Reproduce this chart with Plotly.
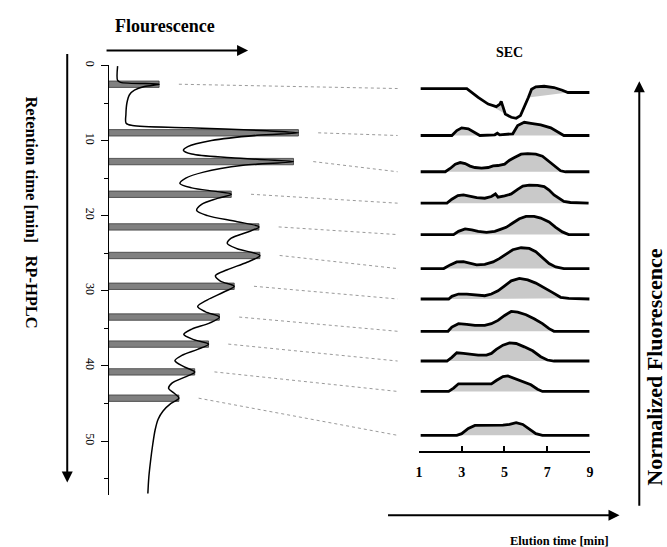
import plotly.graph_objects as go

W, H = 667, 547

# ---------------- RP-HPLC chromatogram (left panel) ----------------
rp_time = [0.1, 2.0, 2.25, 2.5, 2.8, 3.3, 3.9, 5.0, 6.5, 7.7, 8.0, 8.3, 8.7, 8.97, 9.3, 10.0,
           10.8, 11.3, 11.8, 12.3, 12.8, 13.3, 14.2, 15.0, 15.7, 16.3, 16.8, 17.15, 17.7, 18.5,
           19.3, 20.0, 20.8, 21.5, 22.2, 23.0, 23.7, 24.4, 25.3, 26.2, 27.2, 28.0, 28.7, 29.4,
           30.2, 31.2, 32.1, 32.8, 33.5, 34.3, 35.1, 35.8, 36.5, 37.1, 37.8, 38.6, 39.3, 40.1,
           40.8, 41.5, 42.3, 43.0, 43.6, 44.3, 45.0, 46.0, 47.1, 48.5, 50.4, 52.6, 54.8, 57.0]
rp_signal = [4.5, 4.5, 6, 25.5, 18, 13, 10.5, 9.2, 8.7, 8.8, 12, 40, 80, 96, 75, 52,
             40, 37.8, 42, 62, 93.5, 68, 48, 39, 36, 42, 55, 62, 55, 47,
             44.5, 50, 65, 76, 70, 62, 60, 65, 76.5, 70, 60, 54, 56.5, 63.5,
             58, 50, 45, 49, 56, 51, 42, 38, 43, 50.5, 45, 37, 33.5, 38,
             43.5, 38.5, 32, 30.3, 33, 35.5, 31.5, 27.5, 25, 23.5, 22.3, 21.2, 20.3, 19.8]

frac_time = [2.5, 8.97, 12.8, 17.15, 21.5, 25.3, 29.4, 33.5, 37.1, 40.8, 44.3]
frac_signal = [25.5, 96, 93.5, 62, 76, 76.5, 63.5, 56, 50.5, 43.5, 35.5]

rp_ticks = [0, 10, 20, 30, 40, 50]
rp_minor_ticks = [5, 15, 25, 35, 45, 55]

# ---------------- SEC traces (right panel) ----------------
sec_t = [
    [1.08, 3.24, 3.77, 4.24, 4.62, 4.79, 4.85, 4.93, 5.04, 5.32, 5.55, 5.75, 5.93, 6.12, 6.27, 6.47, 6.86, 7.32, 7.71, 7.97, 8.98],
    [1.08, 2.54, 2.77, 3.00, 3.31, 3.62, 3.85, 4.55, 4.67, 4.78, 5.16, 5.39, 5.62, 5.93, 6.24, 6.70, 7.17, 7.55, 7.78, 8.98],
    [1.08, 2.23, 2.46, 2.70, 2.93, 3.16, 3.39, 3.62, 3.93, 4.24, 4.47, 4.70, 5.01, 5.24, 5.47, 5.78, 6.09, 6.47, 6.78, 7.01, 7.32, 7.63, 7.86, 8.98],
    [1.08, 2.31, 2.54, 2.82, 3.08, 3.39, 3.70, 4.08, 4.39, 4.58, 4.70, 5.01, 5.32, 5.62, 5.86, 6.16, 6.55, 6.86, 7.09, 7.32, 7.55, 7.78, 8.09, 8.55, 8.94],
    [1.08, 2.62, 2.85, 3.16, 3.47, 3.77, 4.16, 4.55, 4.78, 5.08, 5.39, 5.70, 6.01, 6.39, 6.70, 7.09, 7.40, 7.71, 8.01, 8.98],
    [1.08, 2.16, 2.46, 2.77, 3.08, 3.39, 3.70, 4.08, 4.47, 4.78, 5.08, 5.39, 5.78, 6.16, 6.47, 6.78, 7.09, 7.40, 7.78, 8.98],
    [1.08, 2.39, 2.54, 2.85, 3.24, 3.62, 4.08, 4.39, 4.70, 5.01, 5.32, 5.70, 6.09, 6.47, 6.86, 7.24, 7.63, 8.01, 8.98],
    [1.08, 2.36, 2.54, 2.85, 3.24, 3.62, 4.08, 4.39, 4.70, 5.01, 5.32, 5.62, 6.01, 6.39, 6.78, 7.09, 7.32, 8.98],
    [1.08, 2.31, 2.54, 2.77, 3.08, 3.39, 3.77, 4.16, 4.39, 4.62, 4.93, 5.24, 5.55, 5.93, 6.32, 6.70, 7.01, 7.32, 8.98],
    [1.08, 2.39, 2.62, 2.85, 3.24, 3.62, 4.39, 4.62, 4.93, 5.16, 5.47, 5.86, 6.24, 6.55, 6.78, 8.98],
    [1.08, 2.77, 3.00, 3.31, 3.62, 4.24, 4.93, 5.24, 5.55, 5.86, 6.16, 6.47, 6.78, 8.98],
]
sec_h = [
    [0, 0, -9, -15.7, -18.3, -15.7, -13, -19, -25.7, -29, -30, -27.3, -19, -9, -0.7, 1.7, 2.3, 1, -1.7, -4, -4],
    [0, 0, 5, 7.7, 6.7, 3.3, 0, 0.7, 2.3, 0.7, 1, 1.7, 10, 13.3, 12.3, 10.7, 7.7, 3.3, 0, 0],
    [0, 0, 3.3, 7.7, 9.3, 8.3, 5.7, 4.3, 3.7, 4.3, 6, 6.3, 7.7, 11.7, 14.3, 17.7, 18.3, 17.7, 15.7, 11.7, 5.7, 1, 0, 0],
    [0, 0, 4, 7.7, 8.3, 6.7, 5.7, 5, 6.7, 9.3, 6, 7.3, 9.3, 14, 17.3, 18.3, 18, 16.7, 13.3, 8.3, 5, 1.7, 0.7, 0, 0],
    [0, 0, 3.3, 5.7, 4.7, 3.3, 2.3, 3.3, 5, 7.3, 11.7, 16, 18.3, 18.3, 16.7, 12.7, 7.3, 2.7, 0, 0],
    [0, 0, 3.7, 6.7, 7, 5.3, 3.7, 4.3, 6.7, 10.3, 14.3, 19, 21, 20.3, 17, 11, 5, 1.7, 0, 0],
    [0, 0, 2.7, 5, 5, 4, 3.3, 5, 8.3, 13.3, 18.3, 20.7, 19.3, 16, 11.7, 6.7, 1.7, 0.7, 0],
    [0, 0, 4.3, 7.7, 7, 6, 6, 7.7, 11, 16, 20, 19.3, 16.7, 12.7, 7.7, 2.7, 0, 0],
    [0, 0, 3.7, 8.3, 7.7, 6.7, 6, 6, 7.7, 11.7, 16, 18.3, 17.7, 14.3, 10.3, 4.3, 1, 0, 0],
    [0, 0, 3.3, 7.7, 7.7, 7.7, 7.7, 11, 15, 15.7, 13.3, 10, 6.7, 2.3, 0, 0],
    [0, 0, 1.7, 7, 10, 10, 10.3, 11, 12.7, 11, 6, 1.7, 0, 0],
]
# index ranges of each trace that are shaded down to a straight baseline
sec_fill = [
    [(3, 8), (13, 19)], [(1, 18)], [(1, 22)], [(1, 23)], [(1, 18)], [(1, 18)],
    [(1, 17)], [(1, 16)], [(1, 17)], [(1, 14)], [(1, 12)],
]
# vertical stacking offsets of the normalized traces
sec_offsets = [365.7, 318.3, 281.7, 250, 218.3, 184, 153.3, 120.7, 90.7, 60, 15.7]
sec_ticks = [1, 3, 5, 7, 9]

# ---------------- layout geometry (pixels) ----------------
L_X0, L_X1, L_XR = 106, 310, (0, 102)         # chromatogram signal axis
L_Y0, L_Y1, L_YR = 61, 494.6, (0, 57.2)        # retention time axis (top -> bottom)
R_X0, R_X1, R_XR = 420, 593, (1, 9)            # SEC elution axis
R_Y0, R_Y1, R_YR = 60, 450, (390, 0)           # SEC stacked axis (top -> bottom)


def lin(v, r, p0, p1):
    return p0 + (v - r[0]) / (r[1] - r[0]) * (p1 - p0)


def paper(px, py):
    return px / W, 1 - py / H


SERIF = "Liberation Serif"
fig = go.Figure()

# fraction bars
fig.add_trace(go.Bar(
    y=frac_time, x=frac_signal, orientation="h", width=0.85, base=0,
    marker=dict(color="#808080", line=dict(color="#3a3a3a", width=0.8)),
    xaxis="x", yaxis="y", hoverinfo="skip"))
# chromatogram
fig.add_trace(go.Scatter(
    x=rp_signal, y=rp_time, mode="lines",
    line=dict(color="black", width=1.5, shape="spline", smoothing=0.9),
    xaxis="x", yaxis="y", hoverinfo="skip"))

# SEC traces
for k in range(len(sec_t)):
    ts, hs, off = sec_t[k], sec_h[k], sec_offsets[k]
    ys = [off + h for h in hs]
    for (i0, i1) in sec_fill[k]:
        fig.add_trace(go.Scatter(
            x=ts[i0:i1 + 1], y=ys[i0:i1 + 1], mode="lines", fill="toself",
            fillcolor="#c9c9c9", line=dict(color="#8a8a8a", width=1),
            xaxis="x2", yaxis="y2", hoverinfo="skip"))
    fig.add_trace(go.Scatter(
        x=ts, y=ys, mode="lines", line=dict(color="black", width=2.8),
        xaxis="x2", yaxis="y2", hoverinfo="skip"))

# dotted connectors from each fraction to its SEC trace
shapes = []
for k in range(len(frac_time)):
    sx = lin(frac_signal[k] + 10, L_XR, L_X0, L_X1)
    sy = lin(frac_time[k], L_YR, L_Y0, L_Y1)
    ex = lin(0.0, R_XR, R_X0, R_X1)
    ey = lin(sec_offsets[k], R_YR, R_Y0, R_Y1)
    x0, y0 = paper(sx, sy)
    x1, y1 = paper(ex, ey)
    shapes.append(dict(type="line", xref="paper", yref="paper", x0=x0, y0=y0, x1=x1, y1=y1,
                       line=dict(color="#9a9a9a", width=1, dash="dot")))

annotations = []


def text(px, py, s, size, angle=0):
    x, y = paper(px, py)
    annotations.append(dict(x=x, y=y, xref="paper", yref="paper", text=s, showarrow=False,
                            textangle=angle, font=dict(family=SERIF, size=size, color="black"),
                            xanchor="center", yanchor="middle"))


def arrow(hx, hy, tx, ty):
    x, y = paper(hx, hy)
    annotations.append(dict(x=x, y=y, xref="paper", yref="paper", text="", showarrow=True,
                            ax=tx - hx, ay=ty - hy, axref="pixel", ayref="pixel",
                            arrowhead=2, arrowsize=1.1, arrowwidth=2, arrowcolor="black"))


text(163, 21, "<b>Flourescence</b>", 18)
text(512, 48, "<b>SEC</b>", 14)
text(28, 209, "<b>Retention time [min]&nbsp;&nbsp;&nbsp;RP-HPLC</b>", 16.5, 90)
text(659, 366, "<b>Normalized Fluorescence</b>", 22, -90)
text(562, 541, "<b>Elution time [min]</b>", 12.5)
arrow(247, 46, 104, 46)
arrow(64, 482, 64, 52)
arrow(643, 77, 643, 503)
arrow(623, 515, 390, 515)

fig.update_layout(
    width=W, height=H, margin=dict(l=0, r=0, t=0, b=0),
    paper_bgcolor="white", plot_bgcolor="white", showlegend=False,
    shapes=shapes, annotations=annotations,
    xaxis=dict(domain=[L_X0 / W, L_X1 / W], range=list(L_XR), visible=False, anchor="y"),
    yaxis=dict(domain=[1 - L_Y1 / H, 1 - L_Y0 / H], range=[L_YR[1], L_YR[0]], anchor="x",
               showline=True, linecolor="black", linewidth=1, ticks="outside", ticklen=7,
               tickcolor="black", tickvals=rp_ticks, tickangle=90, showgrid=False, zeroline=False,
               tickfont=dict(family=SERIF, size=12, color="black"),
               minor=dict(tickvals=rp_minor_ticks, ticks="outside", ticklen=4, tickcolor="black")),
    xaxis2=dict(domain=[R_X0 / W, R_X1 / W], range=list(R_XR), anchor="y2",
                showline=True, linecolor="black", linewidth=1.5, ticks="inside", ticklen=5,
                tickwidth=1.5, tickcolor="black", tickvals=sec_ticks,
                ticktext=["<b>%d</b>" % v for v in sec_ticks], showgrid=False, zeroline=False,
                ticklabelstandoff=8, tickfont=dict(family=SERIF, size=14, color="black")),
    yaxis2=dict(domain=[1 - R_Y1 / H, 1 - R_Y0 / H], range=[R_YR[1], R_YR[0]], anchor="x2",
                visible=False),
)

fig.write_html("out.html")
